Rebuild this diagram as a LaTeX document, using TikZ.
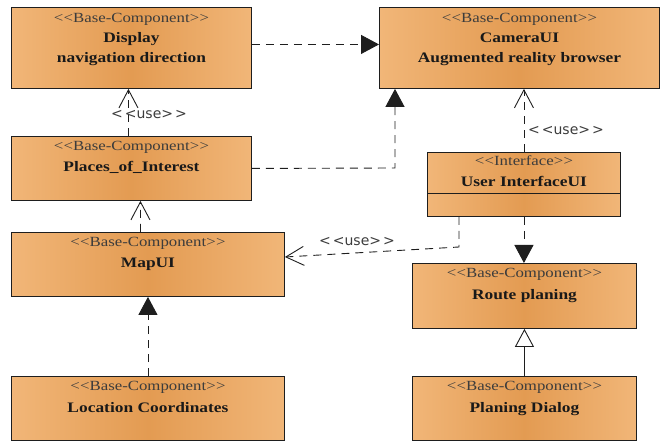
\documentclass[tikz,border=0pt]{standalone}
\usepackage{fontspec}
\setmainfont{Liberation Serif}[FakeStretch=1.2]
\newfontfamily\labelsans{DejaVu Sans}
\usetikzlibrary{arrows.meta,calc}

\definecolor{boxedge}{RGB}{241,182,120}
\definecolor{boxmid}{RGB}{227,155,82}
\definecolor{inkline}{RGB}{30,30,30}
\definecolor{stereoink}{RGB}{60,60,60}

% stereotype brackets kept as separate glyphs
\newcommand{\stlt}{<\kern0.3bp<}
\newcommand{\stgt}{>\kern0.3bp>}

\tikzset{
  compbox/.style={draw=inkline, line width=0.9bp, left color=boxedge, right color=boxedge,
    middle color=boxmid, anchor=north west, inner sep=0pt},
  stereo/.style={anchor=base, inner sep=0pt, text=stereoink,
    font=\fontsize{14bp}{16bp}\selectfont},
  cname/.style={anchor=base, inner sep=0pt, text=black!90,
    font=\fontsize{14.5bp}{16bp}\selectfont\bfseries},
  uselabel/.style={anchor=base, inner sep=0pt, text=stereoink,
    font=\labelsans\fontsize{14bp}{16bp}\selectfont},
  dep/.style={draw=inkline, line width=0.9bp, dash pattern=on 8bp off 6bp},
  realize/.style={draw=inkline, line width=0.9bp},
  filledtip/.style={-{Triangle[length=18bp,width=19bp]}},
  opentip/.style={-{Straight Barb[length=18bp,width=19bp]}},
  hollowtip/.style={-{Triangle[open,length=18bp,width=19bp,fill=white]}},
}

\begin{document}
\begin{tikzpicture}[x=1bp,y=-1bp]
\useasboundingbox (0,0) rectangle (660,442);

% component boxes
\node[compbox, minimum width=240bp, minimum height=81bp] (disp) at (11,7) {};
\node[compbox, minimum width=280bp, minimum height=81bp] (cam) at (379,7) {};
\node[compbox, minimum width=240bp, minimum height=64bp] (plc) at (11,136) {};
\node[compbox, minimum width=193bp, minimum height=64bp] (ui) at (427,152) {};
\node[compbox, minimum width=273bp, minimum height=64bp] (map) at (11,232) {};
\node[compbox, minimum width=224bp, minimum height=65bp] (rte) at (412,263) {};
\node[compbox, minimum width=273bp, minimum height=64bp] (loc) at (11,376) {};
\node[compbox, minimum width=224bp, minimum height=64bp] (dlg) at (412,376) {};

% interface compartment line
\draw[realize] ($(ui.north west)+(0,41)$) -- ($(ui.north east)+(0,41)$);

% box texts
\node[stereo] (dispS) at ($(disp.north)+(0,16)$) {\stlt Base-Component\stgt};
\node[cname]  (dispN) at ($(disp.north)+(0,36)$) {Display};
\node[cname]  (dispM) at ($(disp.north)+(0,56)$) {navigation direction};

\node[stereo] (camS) at ($(cam.north)+(0,16)$) {\stlt Base-Component\stgt};
\node[cname]  (camN) at ($(cam.north)+(0,36)$) {CameraUI};
\node[cname]  (camM) at ($(cam.north)+(0,56)$) {Augmented reality browser};

\node[stereo] (plcS) at ($(plc.north)+(0,15)$) {\stlt Base-Component\stgt};
\node[cname]  (plcN) at ($(plc.north)+(0,36)$) {Places\_of\_Interest};

\node[stereo] (uiS) at ($(ui.north)+(0,14)$) {\stlt Interface\stgt};
\node[cname]  (uiN) at ($(ui.north)+(0,35)$) {User InterfaceUI};

\node[stereo] (mapS) at ($(map.north)+(0,15)$) {\stlt Base-Component\stgt};
\node[cname]  (mapN) at ($(map.north)+(0,36)$) {MapUI};

\node[stereo] (rteS) at ($(rte.north)+(0,15)$) {\stlt Base-Component\stgt};
\node[cname]  (rteN) at ($(rte.north)+(0,37)$) {Route planing};

\node[stereo] (locS) at ($(loc.north)+(0,14)$) {\stlt Base-Component\stgt};
\node[cname]  (locN) at ($(loc.north)+(0,36)$) {Location Coordinates};

\node[stereo] (dlgS) at ($(dlg.north)+(0,14)$) {\stlt Base-Component\stgt};
\node[cname]  (dlgN) at ($(dlg.north)+(0,36)$) {Planing Dialog};

% dependencies
\draw[dep, filledtip] ($(disp.east)+(0,-3.5)$) -- ($(cam.west)+(0,-3.5)$);

\draw[dep, opentip] ($(plc.north)+(-3,0)$) -- ($(disp.south)+(-3,0)$);
\node[uselabel] (use1) at (149,119) {<\kern2bp<use>\kern2bp>};

\coordinate (bendA) at (395,168);
\draw[dep, filledtip] (plc.east) -- (bendA) -- (bendA |- cam.south);

\draw[dep, opentip] ($(map.north)+(-7.5,0)$) -- ($(plc.south)+(9,0)$);

\draw[dep, filledtip] (loc.north) -- (map.south);

\draw[dep, opentip] (ui.north) -- (ui.north |- cam.south);
\node[uselabel] (use2) at (566,135) {<\kern2bp<use>\kern2bp>};

\coordinate (bendB) at (459,247);
\draw[dep, opentip] (bendB |- ui.south) -- (bendB) -- ($(map.north east)+(0,25)$);
\node[uselabel] (use3) at (357,246) {<\kern2bp<use>\kern2bp>};

\draw[dep, filledtip] (ui.south) -- (ui.south |- rte.north);

% generalization
\draw[realize, hollowtip] (dlg.north) -- (dlg.north |- rte.south);
\end{tikzpicture}
\end{document}
